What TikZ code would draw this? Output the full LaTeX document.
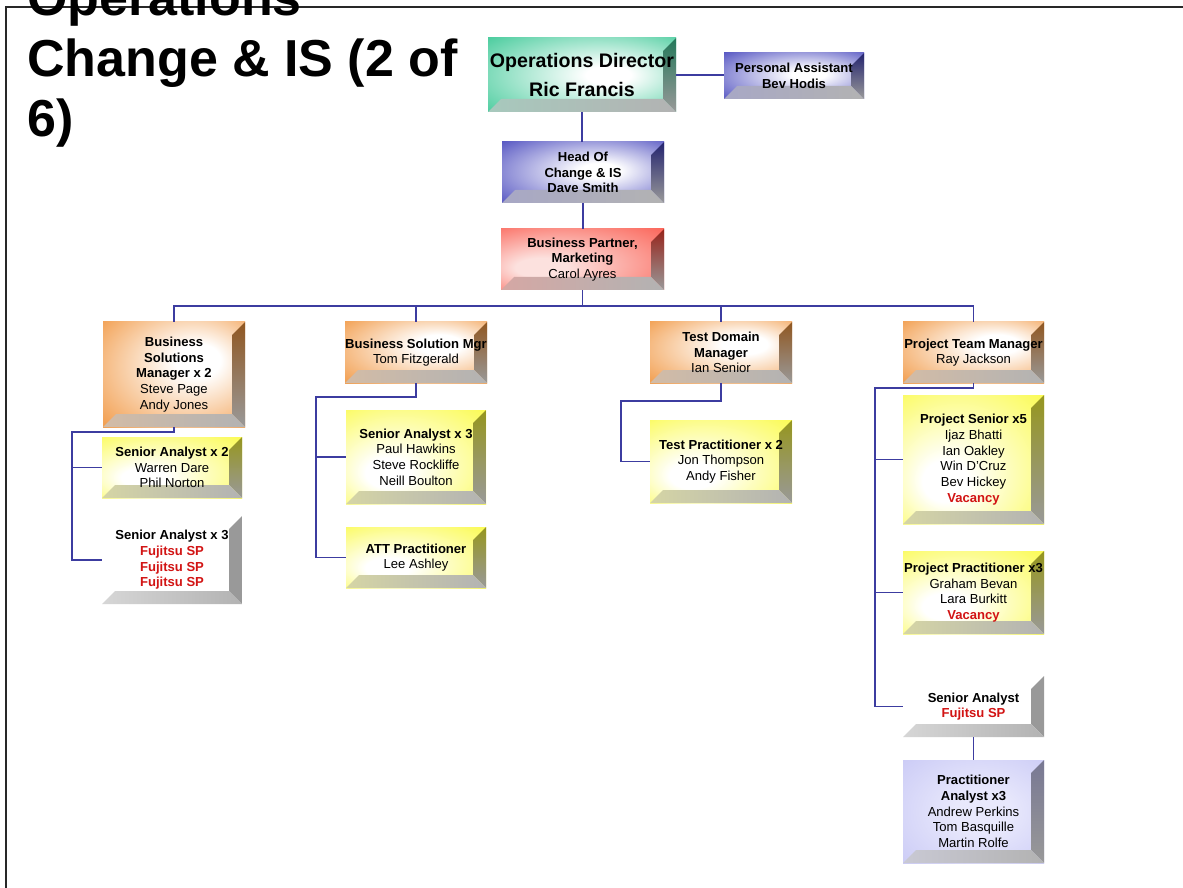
\documentclass[tikz,border=0pt]{standalone}
\usepackage{fontspec}
\setmainfont{Liberation Sans}
\usetikzlibrary{calc}
\definecolor{cGreen}{RGB}{60,200,150}
\definecolor{cBlue}{RGB}{60,60,185}
\definecolor{cRed}{RGB}{250,60,45}
\definecolor{cRedPale}{RGB}{252,225,222}
\definecolor{cOrange}{RGB}{240,145,55}
\definecolor{cYellow}{RGB}{250,250,50}
\definecolor{cLav}{RGB}{200,200,245}
\definecolor{cLavPale}{RGB}{232,232,252}
\definecolor{cWhite}{RGB}{255,255,255}
\definecolor{cLine}{RGB}{60,60,160}
\definecolor{cVac}{RGB}{210,20,20}
\definecolor{cFrame}{RGB}{40,40,40}
\pgfdeclareradialshading{gGreen}{\pgfpoint{8bp}{0bp}}{color(0bp)=(white); color(6bp)=(white); color(40bp)=(cGreen); color(50bp)=(cGreen)}
\pgfdeclareradialshading{gBlue}{\pgfpoint{6bp}{2bp}}{color(0bp)=(white); color(6bp)=(white); color(42bp)=(cBlue); color(50bp)=(cBlue)}
\pgfdeclareradialshading{gRed}{\pgfpoint{-15bp}{-8bp}}{color(0bp)=(cRedPale); color(8bp)=(cRedPale); color(50bp)=(cRed)}
\pgfdeclareradialshading{gOrange}{\pgfpoint{10bp}{8bp}}{color(0bp)=(white); color(8bp)=(white); color(42bp)=(cOrange); color(50bp)=(cOrange)}
\pgfdeclareradialshading{gYellow}{\pgfpoint{-12bp}{-10bp}}{color(0bp)=(white); color(8bp)=(white); color(45bp)=(cYellow); color(50bp)=(cYellow)}
\pgfdeclareradialshading{gLav}{\pgfpoint{4bp}{0bp}}{color(0bp)=(cLavPale); color(10bp)=(cLavPale); color(40bp)=(cLav); color(50bp)=(cLav)}
\pgfdeclareradialshading{gWhite}{\pgfpoint{0bp}{0bp}}{color(0bp)=(white); color(50bp)=(white)}
\tikzset{
  boxtext/.style={align=center, inner sep=0pt, text=black,
    font=\fontsize{9.8pt}{11.8pt}\selectfont},
  conn/.style={draw=cLine, line width=0.85pt},
  titletext/.style={anchor=base west, inner sep=0pt,
    font=\fontsize{39pt}{45pt}\selectfont\bfseries}
}
\newcommand{\vac}[1]{\textcolor{cVac}{\textbf{#1}}}
\newcommand{\bigb}[1]{{\fontsize{14.7pt}{18pt}\selectfont\bfseries #1}}
% name, cx, cy, w, h, colour, shading, text
\newcommand{\bevelbox}[8]{%
  \pgfmathsetmacro{\bvXa}{#2-#4/2}\pgfmathsetmacro{\bvYa}{#3-#5/2}%
  \pgfmathsetmacro{\bvXb}{#2+#4/2}\pgfmathsetmacro{\bvYb}{#3+#5/2}%
  \shade[shading=#7] (\bvXa,\bvYa) rectangle (\bvXb,\bvYb);
  \shade[top color=#6!60!black, bottom color=black!40]
    (\bvXb,\bvYa) -- (\bvXb,\bvYb) -- ({\bvXb-13},{\bvYb-13}) -- ({\bvXb-13},{\bvYa+13}) -- cycle;
  \shade[left color=#6!60!black!40, right color=black!30]
    (\bvXa,\bvYb) -- (\bvXb,\bvYb) -- ({\bvXb-13},{\bvYb-13}) -- ({\bvXa+13},{\bvYb-13}) -- cycle;
  \node[boxtext, minimum width={#4*0.75pt}, minimum height={#5*0.75pt}] (#1) at (#2,#3) {#8};
}
\begin{document}
\begin{tikzpicture}[x=0.75pt,y=-0.75pt]
\useasboundingbox (0,0) rectangle (1183,888);
\fill[white] (0,0) rectangle (1183,888);
% frame
\draw[cFrame, line width=1.4pt] (6,888) -- (6,7) -- (1183,7);
% title
\node[titletext] (title1) at (27,16) {Operations};
\node[titletext] (title2) at (27,77) {Change \& IS (2 of};
\node[titletext] (title3) at (27,137) {6)};

% boxes
\bevelbox{ops}{582}{75}{188}{74}{cGreen}{gGreen}{\bigb{Operations Director}\\[6.5pt]\bigb{Ric Francis}}
\bevelbox{pa}{794}{76}{140}{46}{cBlue}{gBlue}{\textbf{Personal Assistant}\\\textbf{Bev Hodis}}
\bevelbox{head}{583}{172.5}{162}{61}{cBlue}{gBlue}{\textbf{Head Of}\\\textbf{Change \& IS}\\\textbf{Dave Smith}}
\bevelbox{bp}{582.5}{259.5}{163}{61}{cRed}{gRed}{\textbf{Business Partner,}\\\textbf{Marketing}\\Carol Ayres}
\bevelbox{bsm2}{174}{374.5}{142}{105}{cOrange}{gOrange}{\textbf{Business}\\\textbf{Solutions}\\\textbf{Manager x 2}\\Steve Page\\Andy Jones}
\bevelbox{bsmgr}{416}{352.5}{142}{61}{cOrange}{gOrange}{\textbf{Business Solution Mgr}\\Tom Fitzgerald}
\bevelbox{tdm}{721}{352.5}{142}{61}{cOrange}{gOrange}{\textbf{Test Domain}\\\textbf{Manager}\\Ian Senior}
\bevelbox{ptm}{973.5}{352.5}{141}{61}{cOrange}{gOrange}{\textbf{Project Team Manager}\\Ray Jackson}
\bevelbox{sa2}{172}{467.5}{140}{61}{cYellow}{gYellow}{\textbf{Senior Analyst x 2}\\Warren Dare\\Phil Norton}
\bevelbox{sa3f}{172}{560}{140}{88}{cWhite}{gWhite}{\textbf{Senior Analyst x 3}\\\vac{Fujitsu SP}\\\vac{Fujitsu SP}\\\vac{Fujitsu SP}}
\bevelbox{sa3m}{416}{457}{140}{94}{cYellow}{gYellow}{\textbf{Senior Analyst x 3}\\Paul Hawkins\\Steve Rockliffe\\Neill Boulton}
\bevelbox{att}{416}{557.5}{140}{61}{cYellow}{gYellow}{\textbf{ATT Practitioner}\\Lee Ashley}
\bevelbox{tp}{721}{461.5}{142}{83}{cYellow}{gYellow}{\textbf{Test Practitioner x 2}\\Jon Thompson\\Andy Fisher}
\bevelbox{ps}{973.5}{459.5}{141}{129}{cYellow}{gYellow}{\textbf{Project Senior x5}\\Ijaz Bhatti\\Ian Oakley\\Win D'Cruz\\Bev Hickey\\\vac{Vacancy}}
\bevelbox{pp}{973.5}{592.5}{141}{83}{cYellow}{gYellow}{\textbf{Project Practitioner x3}\\Graham Bevan\\Lara Burkitt\\\vac{Vacancy}}
\bevelbox{sar}{973.5}{706.5}{141}{61}{cWhite}{gWhite}{\textbf{Senior Analyst}\\\vac{Fujitsu SP}}
\bevelbox{pa3}{973.5}{811.5}{141}{103}{cLav}{gLav}{\textbf{Practitioner}\\\textbf{Analyst x3}\\Andrew Perkins\\Tom Basquille\\Martin Rolfe}

% connectors
\coordinate (bus) at (582.5,306);
\coordinate (L1) at (72,432);
\coordinate (M1) at (316,397);
\coordinate (T1) at (621,401);
\coordinate (R1) at (875,388);
\draw[conn] (ops.east) -- (ops.east -| pa.west);
\draw[conn] (ops.south) -- (ops.south |- head.north);
\draw[conn] (head.south) -- (head.south |- bp.north);
\draw[conn] (bp.south) -- (bus);
\draw[conn] (bsm2.north) |- (bus);
\draw[conn] (bsmgr.north) |- (bus);
\draw[conn] (tdm.north) |- (bus);
\draw[conn] (ptm.north) |- (bus);
\draw[conn] (bsm2.south) |- (L1) -- (L1 |- sa3f.west) -- (sa3f.west);
\draw[conn] (L1 |- sa2.west) -- (sa2.west);
\draw[conn] (bsmgr.south) |- (M1) -- (M1 |- att.west) -- (att.west);
\draw[conn] (M1 |- sa3m.west) -- (sa3m.west);
\draw[conn] (tdm.south) |- (T1) -- (T1 |- tp.west) -- (tp.west);
\draw[conn] (ptm.south) |- (R1) -- (R1 |- sar.west) -- (sar.west);
\draw[conn] (R1 |- ps.west) -- (ps.west);
\draw[conn] (R1 |- pp.west) -- (pp.west);
\draw[conn] (sar.south) -- (pa3.north);
\end{tikzpicture}
\end{document}
